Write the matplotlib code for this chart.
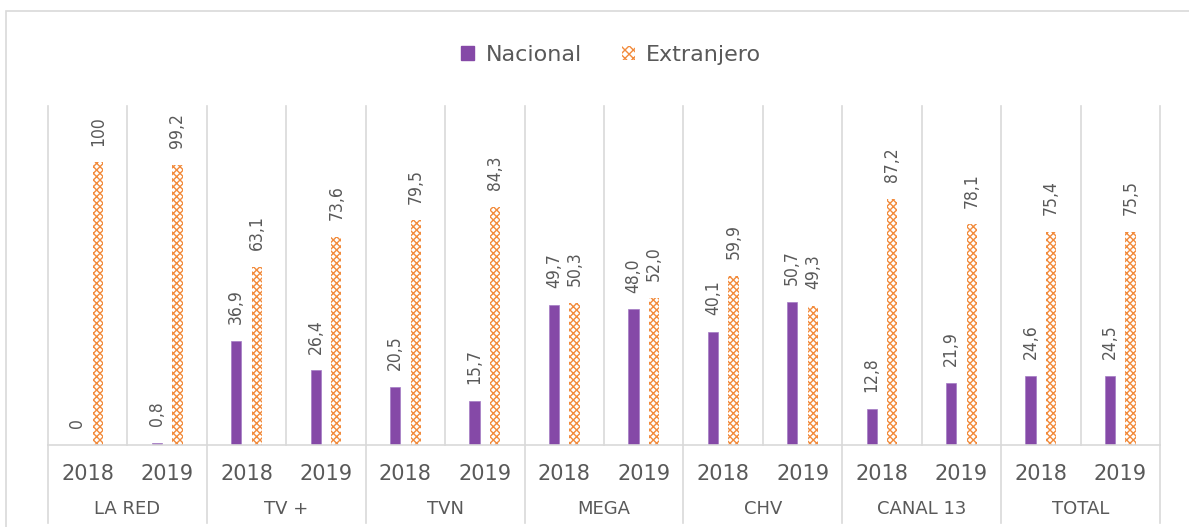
import numpy as np
import matplotlib
matplotlib.use("Agg")
from matplotlib import pyplot as plt
from matplotlib.patches import Patch, Rectangle

channels = ["LA RED", "TV +", "TVN", "MEGA", "CHV", "CANAL 13", "TOTAL"]
years = ["2018", "2019"]
nacional = [0, 0.8, 36.9, 26.4, 20.5, 15.7, 49.7, 48.0, 40.1, 50.7, 12.8, 21.9, 24.6, 24.5]
extranjero = [100, 99.2, 63.1, 73.6, 79.5, 84.3, 50.3, 52.0, 59.9, 49.3, 87.2, 78.1, 75.4, 75.5]
nac_labels = ["0", "0,8", "36,9", "26,4", "20,5", "15,7", "49,7", "48,0", "40,1", "50,7",
              "12,8", "21,9", "24,6", "24,5"]
ext_labels = ["100", "99,2", "63,1", "73,6", "79,5", "84,3", "50,3", "52,0", "59,9", "49,3",
              "87,2", "78,1", "75,4", "75,5"]

purple = "#8549A7"
orange = "#F28B3C"
grid = "#D9D9D9"
text_c = "#595959"

plt.rcParams["font.family"] = ["DejaVu Sans"]
plt.rcParams["hatch.linewidth"] = 1.0

fig = plt.figure(figsize=(11.89, 5.27), dpi=100)
fig.patches.append(Rectangle((6 / 1189, -0.01), 1.2, (527 - 11) / 527 + 0.01,
                             transform=fig.transFigure, fill=False,
                             edgecolor=grid, linewidth=1.2))
ax = fig.add_axes([48 / 1189, (527 - 445) / 527, (1160 - 48) / 1189, (445 - 106) / 527])

n = len(nacional)
x = np.arange(n)
w = 0.13
off = 0.13
ax.bar(x - off, nacional, width=w, color=purple, edgecolor="#A47BC4", linewidth=0.5, zorder=3)
ax.bar(x + off, extranjero, width=w, color="white", edgecolor=orange, hatch="xxxxx",
       linewidth=0, zorder=3)

for i in range(n):
    ax.annotate(nac_labels[i], (x[i] - off, nacional[i]), xytext=(0, 12),
                textcoords="offset points", rotation=90, ha="center", va="bottom",
                fontsize=12.5, color=text_c, fontstretch="condensed")
    ax.annotate(ext_labels[i], (x[i] + off, extranjero[i]), xytext=(0, 12),
                textcoords="offset points", rotation=90, ha="center", va="bottom",
                fontsize=12.5, color=text_c, fontstretch="condensed")

ax.set_xlim(-0.5, n - 0.5)
ax.set_ylim(0, 120)
for s in ax.spines.values():
    s.set_visible(False)
ax.set_xticks([])
ax.set_yticks([])

# separators inside plot area
for b in np.arange(n + 1) - 0.5:
    ax.plot([b, b], [0, 1], transform=ax.get_xaxis_transform(), color=grid, lw=1.2,
            zorder=1, clip_on=False)
ax.plot([-0.5, n - 0.5], [0, 0], transform=ax.get_xaxis_transform(), color=grid, lw=1.2,
        zorder=4, clip_on=False)

# category axis below
for b in np.arange(0, n + 1, 2) - 0.5:
    ax.plot([b, b], [0, -0.23], transform=ax.get_xaxis_transform(), color=grid, lw=1.2,
            clip_on=False)
for i in range(n):
    ax.text(x[i], -0.086, years[i % 2], transform=ax.get_xaxis_transform(),
            ha="center", va="center", fontsize=15, color=text_c)
for j, ch in enumerate(channels):
    ax.text(2 * j + 0.5, -0.19, ch, transform=ax.get_xaxis_transform(),
            ha="center", va="center", fontsize=13, color=text_c)

handles = [Patch(facecolor=purple, edgecolor=purple, label="Nacional"),
           Patch(facecolor="white", edgecolor=orange, hatch="xxxx", linewidth=0, label="Extranjero")]
fig.legend(handles=handles, loc="center", bbox_to_anchor=(0.514, 1 - 55 / 527), ncol=2,
           frameon=False, fontsize=16, handlelength=0.6, handleheight=0.6,
           columnspacing=1.8, handletextpad=0.5, labelcolor=text_c)

fig.savefig("out.png", dpi=100)
